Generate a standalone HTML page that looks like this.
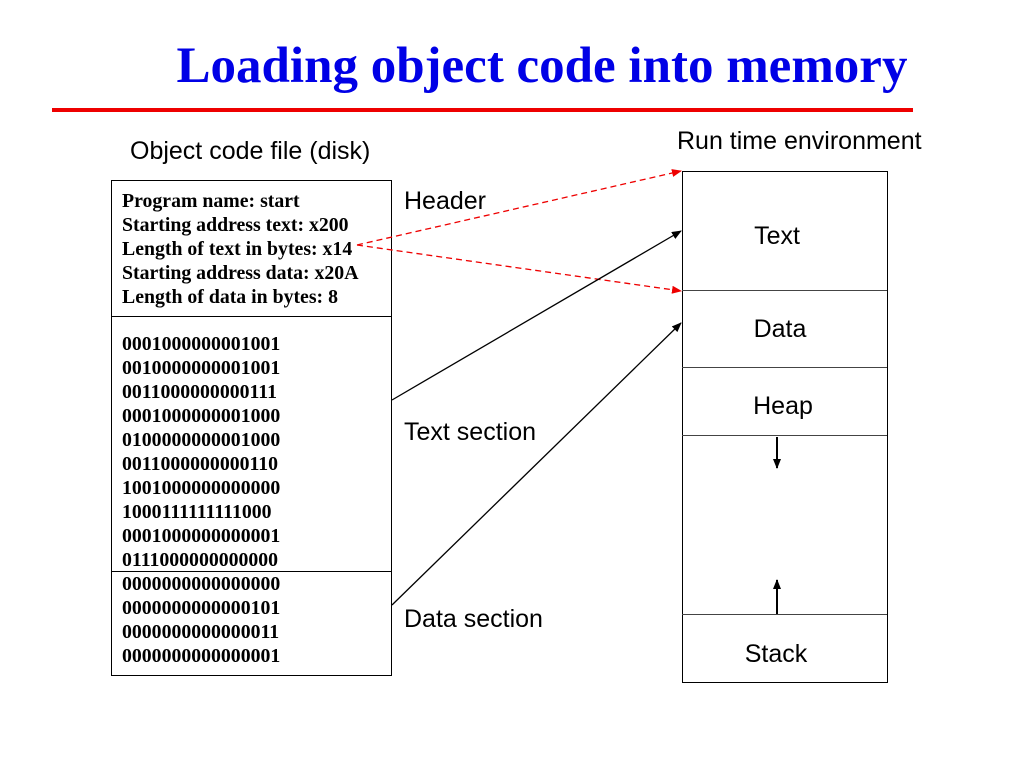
<!DOCTYPE html>
<html><head><meta charset="utf-8"><style>body{margin:0;background:#fff}</style></head><body>
<svg width="1024" height="768" xmlns="http://www.w3.org/2000/svg">
<defs>
<marker id="ab" markerWidth="10" markerHeight="8" refX="9" refY="4" orient="auto" markerUnits="userSpaceOnUse"><path d="M0,0 L10,4 L0,8 z" fill="#000"/></marker>
<marker id="ar" markerWidth="10" markerHeight="8" refX="9" refY="4" orient="auto" markerUnits="userSpaceOnUse"><path d="M0,0 L10,4 L0,8 z" fill="#e00"/></marker>
</defs>
<text x="542" y="82" text-anchor="middle" font-family="Liberation Serif" font-weight="bold" font-size="51" fill="#0000e6">Loading object code into memory</text>
<line x1="52" y1="110" x2="913" y2="110" stroke="#e00" stroke-width="4"/>
<g font-family="Liberation Sans" font-size="25" fill="#000">
<text x="130" y="159">Object code file (disk)</text>
<text x="677" y="149">Run time environment</text>
<text x="404" y="209">Header</text>
<text x="404" y="440">Text section</text>
<text x="404" y="627">Data section</text>
<g text-anchor="middle">
<text x="777" y="244">Text</text>
<text x="780" y="337">Data</text>
<text x="783" y="414">Heap</text>
<text x="776" y="662">Stack</text>
</g>
</g>
<g fill="none" stroke="#000" stroke-width="1">
<rect x="111.5" y="180.5" width="280" height="495"/>
<line x1="111" y1="316.5" x2="391" y2="316.5"/>
<line x1="111" y1="571.5" x2="391" y2="571.5"/>
<rect x="682.5" y="171.5" width="205" height="511"/>
<line x1="682" y1="290.5" x2="887" y2="290.5" stroke="#444"/>
<line x1="682" y1="367.5" x2="887" y2="367.5" stroke="#444"/>
<line x1="682" y1="435.5" x2="887" y2="435.5" stroke="#444"/>
<line x1="682" y1="614.5" x2="887" y2="614.5" stroke="#444"/>
</g>
<g font-family="Liberation Serif" font-weight="bold" font-size="19.8" fill="#000">
<text x="122" y="207">Program name: start</text>
<text x="122" y="231">Starting address text: x200</text>
<text x="122" y="255">Length of text in bytes: x14</text>
<text x="122" y="279">Starting address data: x20A</text>
<text x="122" y="303">Length of data in bytes: 8</text>
<text x="122" y="350">0001000000001001</text>
<text x="122" y="374">0010000000001001</text>
<text x="122" y="398">0011000000000111</text>
<text x="122" y="422">0001000000001000</text>
<text x="122" y="446">0100000000001000</text>
<text x="122" y="470">0011000000000110</text>
<text x="122" y="494">1001000000000000</text>
<text x="122" y="518">1000111111111000</text>
<text x="122" y="542">0001000000000001</text>
<text x="122" y="566">0111000000000000</text>
<text x="122" y="590">0000000000000000</text>
<text x="122" y="614">0000000000000101</text>
<text x="122" y="638">0000000000000011</text>
<text x="122" y="662">0000000000000001</text>
</g>
<g stroke="#e00" stroke-width="1.3" stroke-dasharray="6,4" fill="none">
<line x1="357" y1="245" x2="681" y2="171" marker-end="url(#ar)"/>
<line x1="357" y1="245" x2="681" y2="291" marker-end="url(#ar)"/>
</g>
<g stroke="#000" stroke-width="1.3" fill="none">
<line x1="392" y1="400" x2="681" y2="231" marker-end="url(#ab)"/>
<line x1="392" y1="605" x2="681" y2="323" marker-end="url(#ab)"/>
<line x1="777" y1="437" x2="777" y2="468" marker-end="url(#ab)" stroke-width="2"/>
<line x1="777" y1="614" x2="777" y2="580" marker-end="url(#ab)" stroke-width="2"/>
</g>
</svg>
</body></html>
